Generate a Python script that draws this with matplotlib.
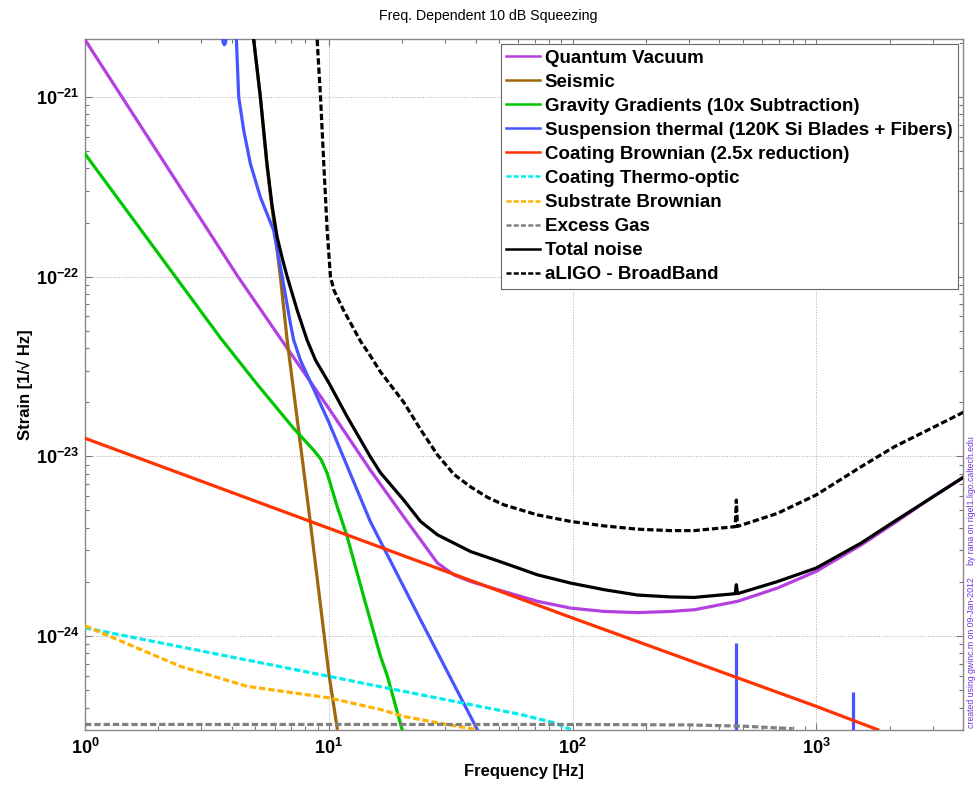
import matplotlib
matplotlib.use("Agg")
import numpy as np
import matplotlib.pyplot as plt
from matplotlib.ticker import FixedLocator, LogLocator, NullFormatter, FuncFormatter

# ---------------------------------------------------------------
# data (frequency in Hz, strain in 1/rtHz)
# ---------------------------------------------------------------
F_QUANTUM = [1, 4.24, 6.75, 10, 14.8, 20.3, 23.8, 27.9, 32.6, 38.2, 52.3,
             71.8, 98.3, 135, 185, 253, 316, 476, 694, 1000, 1527, 2090, 2870, 4053]
H_QUANTUM = [2.08e-21, 1.0e-22, 4.0e-23, 1.85e-23, 8.39e-24, 4.61e-24,
             3.43e-24, 2.55e-24, 2.19e-24, 2.01e-24, 1.77e-24, 1.56e-24, 1.43e-24,
             1.37e-24, 1.35e-24, 1.37e-24, 1.40e-24, 1.56e-24, 1.85e-24, 2.29e-24,
             3.21e-24, 4.25e-24, 5.71e-24, 7.71e-24]

F_SEISMIC = [4.92, 5.24, 5.58, 6.33, 6.75, 8.41, 10, 10.83]
H_SEISMIC = [2.08e-21, 1.0e-21, 4.1e-22, 1.0e-22, 4.43e-23, 4.25e-24, 6.22e-25, 3.07e-25]

F_GRAV = [1, 3.59, 5.08, 7.18, 8.68, 9.3, 9.85, 10.83, 11.9, 13.9, 16.3, 17.4, 20.0]
H_GRAV = [4.82e-22, 4.57e-23, 2.52e-23, 1.43e-23, 1.08e-23, 9.6e-24, 8.05e-24, 5.25e-24,
          3.57e-24, 1.66e-24, 7.71e-25, 5.97e-25, 3.01e-25]

F_SUS = [4.18, 4.27, 4.48, 4.77, 5.24, 5.94, 6.44, 6.96, 7.18, 7.65, 10, 14.8, 23.8, 40.7]
H_SUS = [2.08e-21, 1.0e-21, 6.5e-22, 4.25e-22, 2.77e-22, 1.81e-22, 1.0e-22, 5.48e-23,
         4.43e-23, 3.43e-23, 1.55e-23, 4.34e-24, 1.23e-24, 3.01e-25]
F_SUS_BUMP = [3.66, 3.69, 3.73, 3.77, 3.80]
H_SUS_BUMP = [2.2e-21, 2.0e-21, 1.95e-21, 2.0e-21, 2.2e-21]
F_SUS_PEAK = [470, 1410]
H_SUS_PEAK = [9.1e-25, 4.9e-25]

F_COAT = [1, 10, 100, 1000, 1787]
H_COAT = [1.26e-23, 3.98e-24, 1.26e-24, 4.06e-25, 3.01e-25]

F_THERMO = [1, 10, 14.8, 38.2, 61.3, 84, 98.3]
H_THERMO = [1.11e-24, 5.97e-25, 5.36e-25, 4.15e-25, 3.66e-25, 3.29e-25, 3.02e-25]

F_SUBST = [1, 2.46, 4.62, 10, 16.3, 20.3, 27.9, 40.7]
H_SUBST = [1.14e-24, 6.78e-25, 5.25e-25, 4.53e-25, 3.90e-25, 3.57e-25, 3.29e-25, 3.01e-25]

F_GAS = [1, 100, 300, 500, 800]
H_GAS = [3.22e-25, 3.22e-25, 3.2e-25, 3.15e-25, 3.05e-25]

F_TOTAL = [4.92, 5.24, 5.58, 5.85, 6.14, 6.45, 6.75, 7.42, 8.15, 8.82, 10, 11.9, 14.8,
           16.3, 20.3, 23.8, 27.9, 38.2, 52.3, 71.8, 98.3, 135, 185, 253, 316, 465, 470,
           475, 694, 1000, 1527, 2090, 2870, 4053]
H_TOTAL = [2.08e-21, 1.0e-21, 4.25e-22, 2.5e-22, 1.66e-22, 1.26e-22, 1.0e-22, 6.5e-23,
           4.43e-23, 3.43e-23, 2.57e-23, 1.66e-23, 9.95e-24, 8.1e-24, 5.71e-24, 4.34e-24,
           3.66e-24, 2.95e-24, 2.55e-24, 2.19e-24, 1.97e-24, 1.81e-24, 1.69e-24,
           1.65e-24, 1.64e-24, 1.72e-24, 1.93e-24, 1.72e-24, 2.01e-24, 2.39e-24,
           3.29e-24, 4.34e-24, 5.71e-24, 7.71e-24]

F_ALIGO = [8.96, 9.25, 9.54, 9.85, 10.16, 10.5, 11.5, 13.5, 14.8, 16.3, 20.3, 23.8, 27.9,
           32.6, 38.2, 45, 52.3, 71.8, 98.3, 135, 185, 253, 316, 465, 470, 475, 694, 1000,
           1527, 2090, 2870, 4053]
H_ALIGO = [2.08e-21, 1.0e-21, 4.25e-22, 1.81e-22, 1.0e-22, 8.4e-23, 6.5e-23, 4.37e-23,
           3.63e-23, 2.95e-23, 2.0e-23, 1.41e-23, 1.02e-23, 7.94e-24, 6.76e-24, 5.89e-24,
           5.37e-24, 4.72e-24, 4.34e-24, 4.10e-24, 3.93e-24, 3.86e-24, 3.86e-24,
           4.06e-24, 5.71e-24, 4.07e-24, 4.82e-24, 6.10e-24, 8.75e-24, 1.13e-23,
           1.40e-23, 1.77e-23]

LABELS = ["Quantum Vacuum", "Seismic", "Gravity Gradients (10x Subtraction)",
          "Suspension thermal (120K Si Blades + Fibers)",
          "Coating Brownian (2.5x reduction)", "Coating Thermo-optic",
          "Substrate Brownian", "Excess Gas", "Total noise", "aLIGO - BroadBand"]

X_DECADES = [1, 10, 100, 1000]
Y_DECADES = [1e-24, 1e-23, 1e-22, 1e-21]

# ---------------------------------------------------------------
plt.rcParams["font.family"] = ["Liberation Sans", "DejaVu Sans"]
plt.rcParams["mathtext.fontset"] = "custom"
plt.rcParams["mathtext.rm"] = "Liberation Sans"
plt.rcParams["mathtext.bf"] = "Liberation Sans:bold"

C_PURPLE = (0.70, 0.25, 0.88)
C_BROWN = (0.62, 0.40, 0.05)
C_GREEN = (0.0, 0.78, 0.0)
C_BLUE = (0.28, 0.33, 1.0)
C_RED = (1.0, 0.2, 0.0)
C_CYAN = (0.0, 0.93, 0.93)
C_ORANGE = (1.0, 0.70, 0.0)
C_GRAY = (0.5, 0.5, 0.5)
LW = 2.3
DASH = (2.0, 0.9)

fig = plt.figure(figsize=(9.76, 7.85), dpi=100)
ax = fig.add_axes([0.0871, 0.0701, 0.8996, 0.8802])

ax.loglog(F_QUANTUM, H_QUANTUM, color=C_PURPLE, lw=LW, label=LABELS[0], zorder=3)
ax.loglog(F_SEISMIC, H_SEISMIC, color=C_BROWN, lw=LW, label=LABELS[1], zorder=3)
ax.loglog(F_GRAV, H_GRAV, color=C_GREEN, lw=LW, label=LABELS[2], zorder=3)
ax.loglog(F_SUS, H_SUS, color=C_BLUE, lw=LW, label=LABELS[3], zorder=3)
ax.loglog(F_SUS_BUMP, H_SUS_BUMP, color=C_BLUE, lw=LW, zorder=3)
ax.vlines(F_SUS_PEAK, 1e-26, H_SUS_PEAK, color=C_BLUE, lw=LW, zorder=3)
ax.loglog(F_COAT, H_COAT, color=C_RED, lw=LW, label=LABELS[4], zorder=3)
ax.loglog(F_THERMO, H_THERMO, color=C_CYAN, lw=LW, ls=(0, DASH), label=LABELS[5], zorder=3)
ax.loglog(F_SUBST, H_SUBST, color=C_ORANGE, lw=LW, ls=(0, DASH), label=LABELS[6], zorder=3)
ax.loglog(F_GAS, H_GAS, color=C_GRAY, lw=LW, ls=(0, DASH), label=LABELS[7], zorder=3)
ax.loglog(F_TOTAL, H_TOTAL, color="black", lw=LW, label=LABELS[8], zorder=4)
ax.loglog(F_ALIGO, H_ALIGO, color="black", lw=LW, ls=(0, DASH), label=LABELS[9], zorder=4)

ax.set_xlim(1, 4000)
ax.set_ylim(3e-25, 2.1e-21)


def decade_label(v, pos):
    return r"$\mathbf{10^{%d}}$" % int(round(np.log10(v)))


ax.xaxis.set_major_locator(FixedLocator(X_DECADES))
ax.yaxis.set_major_locator(FixedLocator(Y_DECADES))
ax.xaxis.set_minor_locator(LogLocator(base=10, subs=range(2, 10), numticks=20))
ax.yaxis.set_minor_locator(LogLocator(base=10, subs=range(2, 10), numticks=20))
ax.xaxis.set_major_formatter(FuncFormatter(decade_label))
ax.yaxis.set_major_formatter(FuncFormatter(decade_label))
ax.xaxis.set_minor_formatter(NullFormatter())
ax.yaxis.set_minor_formatter(NullFormatter())

ax.grid(True, which="major", ls=":", color="#aaaaaa", lw=0.7)
ax.tick_params(which="both", direction="in", top=True, right=True, color="#777777",
               labelsize=13)
ax.tick_params(which="major", length=5, width=0.8)
ax.tick_params(which="minor", length=3, width=0.8)
ax.tick_params(axis="y", pad=4)
ax.tick_params(axis="x", pad=6)
for s in ax.spines.values():
    s.set_color("#888888")
    s.set_linewidth(1.0)

ax.set_xlabel("Frequency [Hz]", fontsize=12, fontweight="bold", labelpad=4)
ax.set_ylabel("Strain [1/\u221a Hz]", fontsize=12, fontweight="bold", labelpad=2)
fig.text(0.5, 1 - 16 / 785, "Freq. Dependent 10 dB Squeezing", ha="center", va="center",
         fontsize=10.2)

leg = ax.legend(loc="upper right", bbox_to_anchor=(0.9943, 0.9928), borderaxespad=0,
                prop={"size": 13.5, "weight": "bold"}, handlelength=1.8,
                handletextpad=0.25, labelspacing=0.37, borderpad=0.3,
                fancybox=False, framealpha=1, edgecolor="#666666")
leg.get_frame().set_linewidth(0.8)
for line in leg.get_lines():
    line.set_linewidth(1.8)

fig.text(0.995, 0.0726, "created using gwinc.m on 09-Jan-2012", rotation=90,
         fontsize=6.3, color=(0.45, 0.2, 0.85), ha="center", va="bottom")
fig.text(0.995, 0.280, "by rana on rigel1.ligo.caltech.edu", rotation=90,
         fontsize=6.3, color=(0.45, 0.2, 0.85), ha="center", va="bottom")

fig.savefig("out.png", dpi=100)
